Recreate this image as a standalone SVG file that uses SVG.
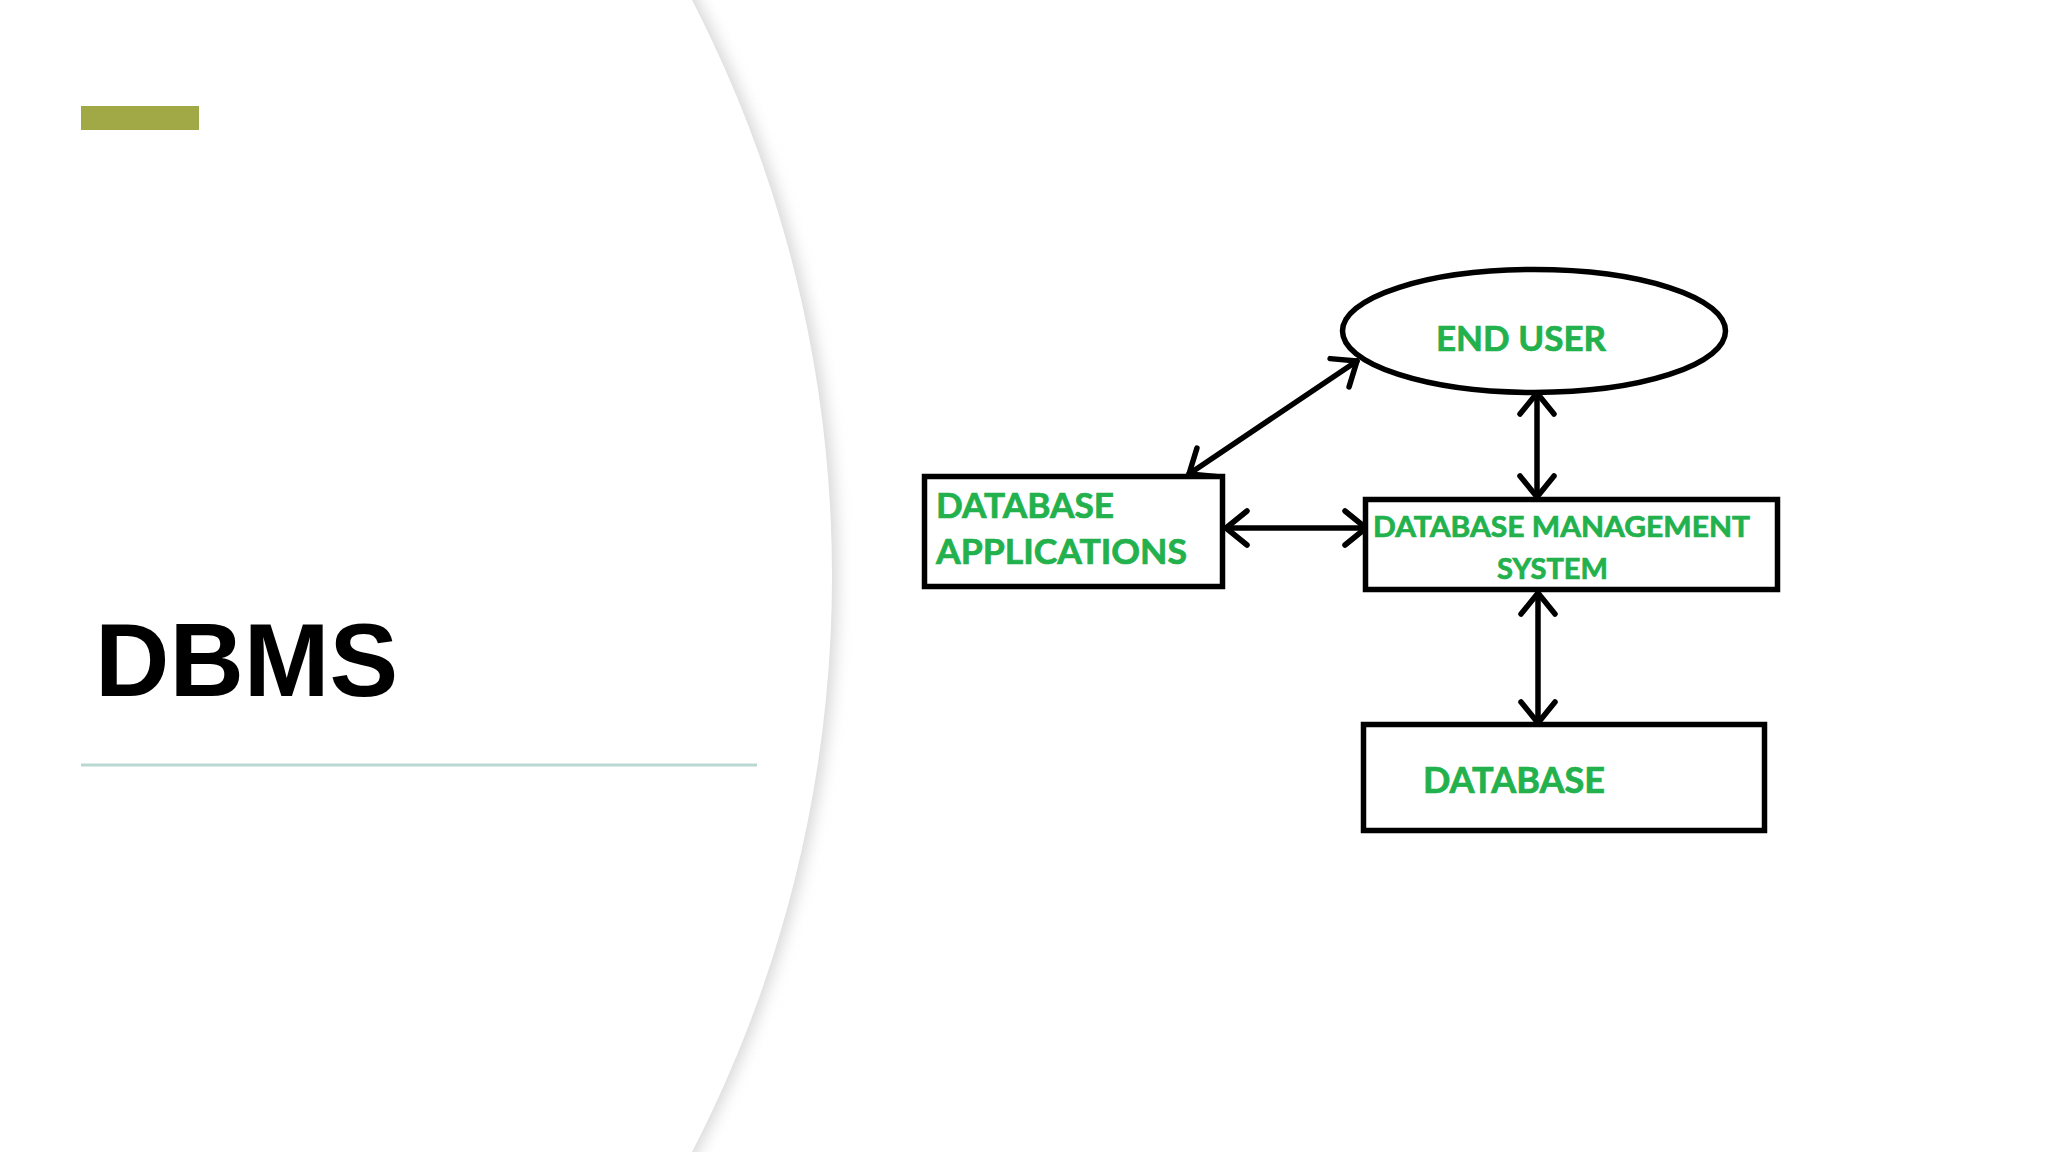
<svg xmlns="http://www.w3.org/2000/svg" width="2048" height="1152" viewBox="0 0 2048 1152">
  <defs>
    <filter id="shadow" x="-20%" y="-20%" width="140%" height="140%">
      <feGaussianBlur stdDeviation="8"/>
    </filter>
    <marker id="arr" viewBox="-26 -22 30 44" refX="0" refY="0" markerWidth="30" markerHeight="44" markerUnits="userSpaceOnUse" orient="auto-start-reverse">
      <path d="M -21 -17 L 0 0 L -21 17" fill="none" stroke="#000" stroke-width="5.5" stroke-linecap="round" stroke-linejoin="round"/>
    </marker>
    <style>
      .box { fill: #ffffff; stroke: #000000; stroke-width: 5.5; }
      .lbl { font-family: Lato, "Liberation Sans", sans-serif; font-weight: 700; fill: #22b14c; stroke: #22b14c; stroke-width: 0.7; }
      .conn { stroke: #000000; stroke-width: 5.5; stroke-linecap: round; fill: none; marker-start: url(#arr); marker-end: url(#arr); }
    </style>
  </defs>

  <rect x="0" y="0" width="2048" height="1152" fill="#ffffff"/>

  <!-- big white circle with soft shadow -->
  <g id="backdrop">
    <circle cx="-418" cy="576" r="1255" fill="#d6d6d6" filter="url(#shadow)"/>
    <circle cx="-423" cy="576" r="1255" fill="#ffffff"/>
  </g>

  <g id="title">
    <rect x="81" y="106" width="118" height="24" fill="#a1a946"/>
    <text x="95" y="696" font-family="'Liberation Sans', Arial, sans-serif" font-weight="700" font-size="103" fill="#000000">DBMS</text>
    <line x1="81" y1="765" x2="757" y2="765" stroke="#b9d8d1" stroke-width="3"/>
  </g>

  <g id="connectors">
    <line class="conn" x1="1189" y1="474" x2="1357" y2="361"/>
    <line class="conn" x1="1537" y1="393" x2="1537" y2="497"/>
    <line class="conn" x1="1226" y1="528" x2="1366" y2="528"/>
    <line class="conn" x1="1538" y1="593" x2="1538" y2="723"/>
  </g>

  <g id="end-user">
    <ellipse class="box" cx="1534" cy="331" rx="191.5" ry="61.5"/>
    <text class="lbl" x="1436" y="351" font-size="35" textLength="170" lengthAdjust="spacingAndGlyphs">END USER</text>
  </g>

  <g id="database-applications">
    <rect class="box" x="924.5" y="476.5" width="298" height="110"/>
    <text class="lbl" x="936" y="518" font-size="34" textLength="178" lengthAdjust="spacingAndGlyphs">DATABASE</text>
    <text class="lbl" x="936" y="564" font-size="34" textLength="251" lengthAdjust="spacingAndGlyphs">APPLICATIONS</text>
  </g>

  <g id="dbms">
    <rect class="box" x="1365.5" y="499.5" width="412" height="90"/>
    <text class="lbl" x="1373" y="537" font-size="29" textLength="377" lengthAdjust="spacingAndGlyphs">DATABASE MANAGEMENT</text>
    <text class="lbl" x="1497" y="579" font-size="29" textLength="111" lengthAdjust="spacingAndGlyphs">SYSTEM</text>
  </g>

  <g id="database">
    <rect class="box" x="1363.5" y="724.5" width="401" height="106"/>
    <text class="lbl" x="1423" y="793" font-size="36" textLength="182" lengthAdjust="spacingAndGlyphs">DATABASE</text>
  </g>
</svg>
